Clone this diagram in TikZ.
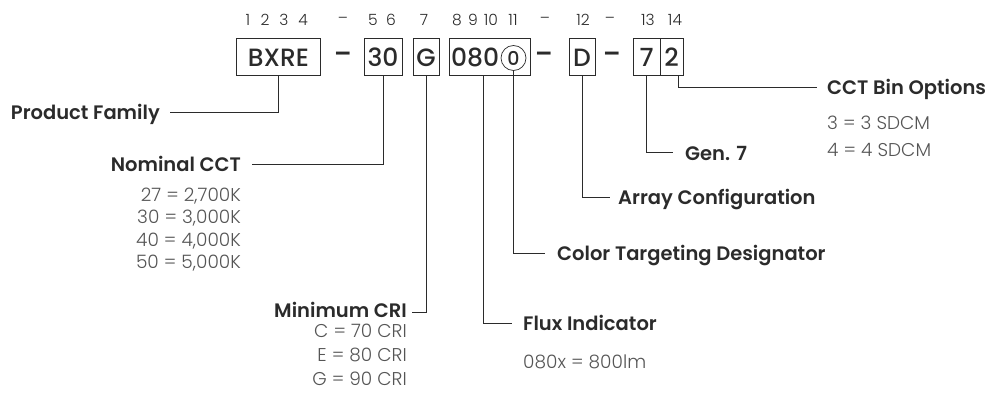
\documentclass[tikz,border=0pt]{standalone}
\usepackage{fontspec}
\setmainfont{Poppins}
\newfontfamily\lblfont{Poppins SemiBold}
\newfontfamily\valfont{Poppins Light}
\newfontfamily\boxfont{Poppins Medium}
\definecolor{ink}{HTML}{2B2B2B}
\definecolor{gray}{HTML}{555555}
\begin{document}
\begin{tikzpicture}[x=1pt,y=-1pt,
  codebox/.style={draw=ink,line width=1pt,inner sep=0pt,font=\boxfont\fontsize{25}{25}\selectfont,text=ink},
  boxtext/.style={font=\boxfont\fontsize{25}{25}\selectfont,text=ink,inner sep=0pt},
  sepdash/.style={font=\lblfont\fontsize{25}{25}\selectfont,text=ink,inner sep=0pt},
  digit/.style={font=\valfont\fontsize{15.5}{15.5}\selectfont,text=ink,inner sep=0pt},
  lbl/.style={font=\lblfont\fontsize{19.5}{19.5}\selectfont,text=ink,inner sep=0pt},
  val/.style={font=\valfont\fontsize{18.5}{18.5}\selectfont,text=gray,inner sep=0pt},
  conn/.style={draw=ink,line width=1pt}]
\useasboundingbox (0,0) rectangle (995,401);
% code boxes
\node[codebox,minimum width=84,minimum height=37] (bxre) at (278.5,57.5) {BXRE};
\node[codebox,minimum width=38,minimum height=37] (cct) at (383,57.5) {30};
\node[codebox,minimum width=26,minimum height=37] (cri) at (426,57.5) {G};
\node[codebox,minimum width=81,minimum height=37] (flux) at (489.5,57.5) {};
\node[boxtext,anchor=west] (fluxt) at (451,57.5) {080};
\node[draw=ink,line width=0.7pt,circle,minimum size=25,inner sep=0pt,font=\boxfont\fontsize{19}{19}\selectfont,text=ink] (ctd) at (513.5,58) {0};
\node[codebox,minimum width=26,minimum height=37] (arr) at (582,57.5) {D};
\node[codebox,minimum width=27,minimum height=37] (gen) at (646.5,57.5) {7};
\node[codebox,minimum width=23,minimum height=37] (bin) at (671.5,57.5) {2};
% dashes
\node[sepdash] (d1) at (343,57.5) {–};
\node[sepdash] (d2) at (544,57.5) {–};
\node[sepdash] (d3) at (612,57.5) {–};
% digit row
\foreach \n/\x in {1/248,2/265,3/284,4/303,5/373,6/391,7/424,8/457,9/473,10/491,11/513,12/583,13/648,14/675}
  \node[digit] (n\n) at (\x,20) {\n};
\foreach \x [count=\i] in {343,545,610}
  \node[digit] (m\i) at (\x,20) {–};
% labels
\node[lbl,anchor=base east] (pf) at (160,120) {Product Family};
\node[lbl,anchor=base east] (nc) at (241,171) {Nominal CCT};
\node[val,anchor=base east] (v1) at (241,201) {27 = 2,700K};
\node[val,anchor=base east] (v2) at (241,223.5) {30 = 3,000K};
\node[val,anchor=base east] (v3) at (241,246) {40 = 4,000K};
\node[val,anchor=base east] (v4) at (241,268.5) {50 = 5,000K};
\node[lbl,anchor=base east] (mc) at (407,317) {Minimum CRI};
\node[val,anchor=base east] (c1) at (407,337) {C = 70 CRI};
\node[val,anchor=base east] (c2) at (407,361) {E = 80 CRI};
\node[val,anchor=base east] (c3) at (407,385) {G = 90 CRI};
\node[lbl,anchor=base west] (fi) at (523,330) {Flux Indicator};
\node[val,anchor=base west] (f1) at (523,368) {080x = 800lm};
\node[lbl,anchor=base west] (ct) at (557,260) {Color Targeting Designator};
\node[lbl,anchor=base west] (ac) at (618,204) {Array Configuration};
\node[lbl,anchor=base west] (g7) at (685,160) {Gen. 7};
\node[lbl,anchor=base west] (cb) at (827,95) {CCT Bin Options};
\node[val,anchor=base west] (b1) at (827,129) {3 = 3 SDCM};
\node[val,anchor=base west] (b2) at (827,156) {4 = 4 SDCM};
% connectors
\coordinate (pfe) at (170,113);
\draw[conn] (bxre.south) |- (pfe);
\coordinate (nce) at (252,164);
\draw[conn] (cct.south) |- (nce);
\coordinate (mce) at (412,312);
\draw[conn] (cri.south) |- (mce);
\coordinate (fie) at (512,323);
\draw[conn] (483,76) |- (fie);
\coordinate (cte) at (545,253);
\draw[conn] (ctd.south) |- (cte);
\coordinate (ace) at (610,197);
\draw[conn] (arr.south) |- (ace);
\coordinate (g7e) at (673,152);
\draw[conn] (gen.south) |- (g7e);
\coordinate (cbe) at (817,88);
\draw[conn] (678,76) |- (cbe);
\end{tikzpicture}
\end{document}
